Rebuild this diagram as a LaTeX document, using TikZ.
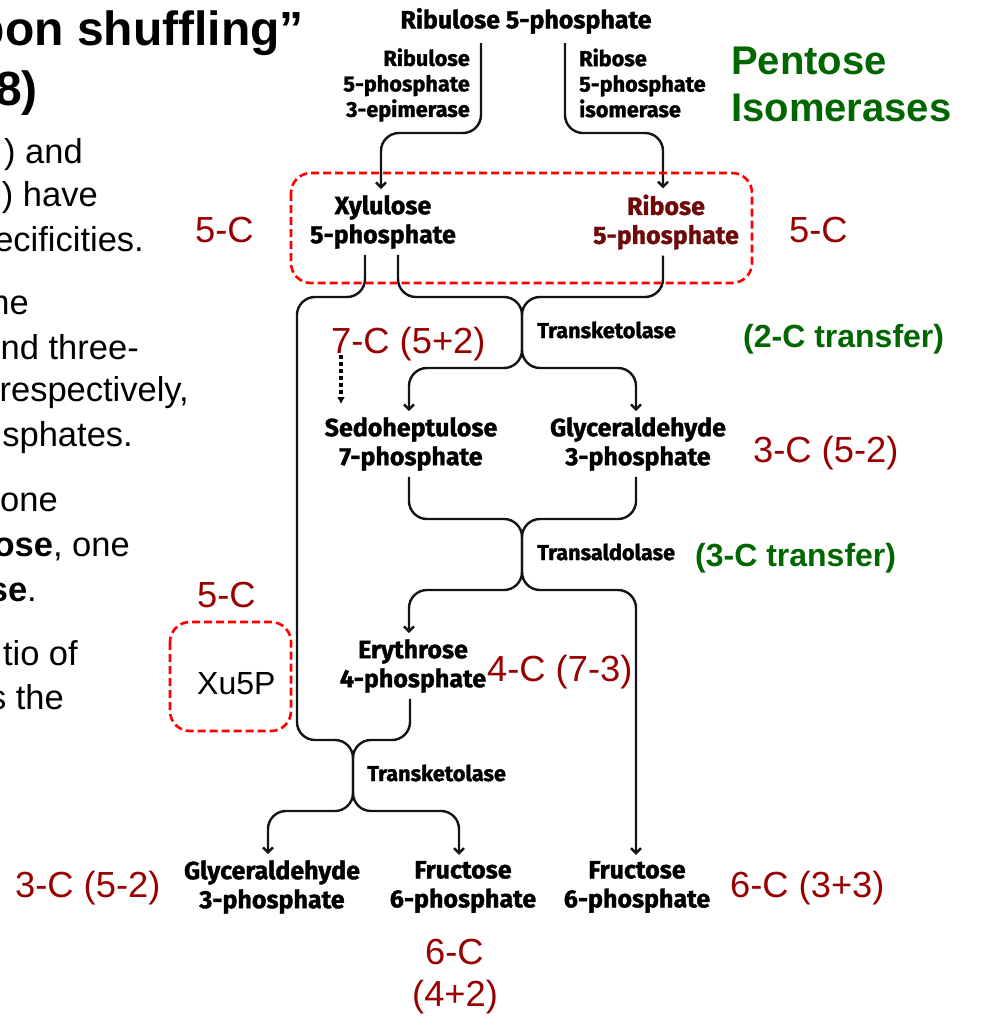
\documentclass[tikz,border=0pt]{standalone}
\usepackage{fontspec}
\setmainfont{Liberation Sans}
\newfontfamily\pathfont[BoldFeatures={FakeBold=1.3}]{Fira Sans}
\usepackage{xcolor}
\usetikzlibrary{arrows.meta}
\definecolor{darkredlbl}{HTML}{990000}
\definecolor{darkgreenlbl}{HTML}{006600}
\definecolor{riboselbl}{HTML}{6E0A0A}
\definecolor{dashred}{HTML}{FF0000}
\tikzset{
  bodytext/.style={anchor=base east, inner sep=0pt, text=black, font=\fontsize{34.5}{40}\selectfont},
  titletext/.style={anchor=base east, inner sep=0pt, text=black, font=\fontsize{48}{54}\selectfont\bfseries},
  carbonlbl/.style={anchor=base west, inner sep=0pt, text=darkredlbl, font=\fontsize{36.3}{40}\selectfont},
  transferlbl/.style={anchor=base west, inner sep=0pt, text=darkgreenlbl, font=\fontsize{32}{36}\selectfont\bfseries},
  isolbl/.style={anchor=base west, inner sep=0pt, text=darkgreenlbl, font=\fontsize{40}{47}\selectfont\bfseries},
  metab/.style={align=center, inner xsep=0pt, inner ysep=6pt, text=black, font=\pathfont\fontsize{25}{29}\selectfont\bfseries},
  enzyme/.style={inner sep=0pt, text=black, font=\pathfont\fontsize{21.7}{25.5}\selectfont\bfseries},
  conn/.style={draw=black!92, line width=2.4pt, rounded corners=18pt},
  connarrow/.style={conn, -{Straight Barb[length=5pt,width=10pt]}},
  dashbox/.style={draw=dashred, line width=2.6pt, dash pattern=on 8pt off 4pt, rounded corners=20pt}
}
\begin{document}
\begin{tikzpicture}[x=1pt, y=-1pt]
\useasboundingbox (0,0) rectangle (1000,1035);

\node[titletext] (titlea) at (304,46) {bon shuffling”};
\node[titletext] (titleb) at (38,106) {8)};
\node[bodytext] (ta) at (83,164) {) and};
\node[bodytext] (tb) at (98,206) {) have};
\node[bodytext] (tc) at (144,251) {ecificities.};
\node[bodytext] (td) at (29,314) {ne};
\node[bodytext] (te) at (139,359) {nd three-};
\node[bodytext] (tf) at (189,401) {respectively,};
\node[bodytext] (tg) at (133,446) {sphates.};
\node[bodytext] (th) at (58,511) {one};
\node[bodytext] (ti) at (130,556) {\textbf{ose}, one};
\node[bodytext] (tj) at (37,601) {\textbf{se}.};
\node[bodytext] (tk) at (78,665) {tio of};
\node[bodytext] (tl) at (64,709) {s the};

\node[metab, inner ysep=9pt] (ru5p) at (526,21) {Ribulose 5-phosphate};
\node[metab] (xu5p) at (383,222) {Xylulose\\5-phosphate};
\node[metab, text=riboselbl] (r5p) at (666,222) {Ribose\\5-phosphate};
\node[metab] (s7p) at (411,444) {Sedoheptulose\\7-phosphate};
\node[metab] (g3pa) at (638,444) {Glyceraldehyde\\3-phosphate};
\node[metab] (e4p) at (413,666) {Erythrose\\4-phosphate};
\node[metab] (g3pb) at (272,887) {Glyceraldehyde\\3-phosphate};
\node[metab] (f6pa) at (463,887) {Fructose\\6-phosphate};
\node[metab] (f6pb) at (637,887) {Fructose\\6-phosphate};

\node[enzyme, anchor=east, align=right] (rpe) at (470,85) {Ribulose\\5-phosphate\\3-epimerase};
\node[enzyme, anchor=west, align=left] (rpi) at (579,83) {Ribose\\5-phosphate\\isomerase};
\node[enzyme, anchor=west] (tka) at (537,330) {Transketolase};
\node[enzyme, anchor=west] (tal) at (537,552) {Transaldolase};
\node[enzyme, anchor=west] (tkb) at (367,773) {Transketolase};

\node[isolbl] (pent) at (731,75) {Pentose};
\node[isolbl] (isom) at (731,122) {Isomerases};
\node[transferlbl] (twoc) at (743,347) {(2-C transfer)};
\node[transferlbl] (threec) at (695,566) {(3-C transfer)};

\node[carbonlbl] (ca) at (195,242) {5-C};
\node[carbonlbl] (cb) at (789,242) {5-C};
\node[carbonlbl] (cc) at (331,353) {7-C (5+2)};
\node[carbonlbl] (cd) at (753,462) {3-C (5-2)};
\node[carbonlbl] (ce) at (197,607) {5-C};
\node[carbonlbl] (cf) at (487,681) {4-C (7-3)};
\node[carbonlbl] (cg) at (15,897) {3-C (5-2)};
\node[carbonlbl] (ch) at (730,897) {6-C (3+3)};
\node[carbonlbl] (ci) at (425,964) {6-C};
\node[carbonlbl] (cj) at (412,1006) {(4+2)};
\node[inner sep=0pt, anchor=base west, text=black, font=\fontsize{32}{38}\selectfont] (xu) at (197,694) {Xu5P};

\coordinate (ba) at (381,133);
\coordinate (bb) at (663,133);
\coordinate (ja) at (522,297);
\coordinate (jb) at (522,368);
\coordinate (jc) at (522,519);
\coordinate (jd) at (522,590);
\coordinate (je) at (353,740);
\coordinate (jf) at (353,811);
\coordinate (wall) at (297,297);
\coordinate (dota) at (341,355);
\coordinate (dotb) at (341,404);

\draw[connarrow] ([xshift=-45pt]ru5p.south) |- (ba) -- ([xshift=-2pt]xu5p.north);
\draw[connarrow] ([xshift=39pt]ru5p.south) |- (bb) -- ([xshift=-3pt]r5p.north);

\draw[connarrow] ([xshift=15pt]xu5p.south) |- (ja) -- (jb) -| ([xshift=-2pt]s7p.north);
\draw[connarrow] ([xshift=-3pt]r5p.south) |- (ja) -- (jb) -| ([xshift=-2pt]g3pa.north);

\draw[connarrow] ([xshift=-2pt]s7p.south) |- (jc) -- (jd) -| ([xshift=-4pt]e4p.north);
\draw[connarrow] ([xshift=-2pt]g3pa.south) |- (jc) -- (jd) -| ([xshift=-1pt]f6pb.north);

\draw[connarrow] ([xshift=-18pt]xu5p.south) |- (wall) |- (je) -- (jf) -| ([xshift=-4pt]g3pb.north);
\draw[connarrow] ([xshift=-3pt]e4p.south) |- (je) -- (jf) -| ([xshift=-4pt]f6pa.north);

\draw[line width=3.5pt, black, dash pattern=on 3.5pt off 3.5pt, -{Latex[length=7pt,width=8pt]}] (dota) -- (dotb);

\draw[dashbox] (291,173) rectangle (752,283);
\draw[dashbox] (170,622) rectangle (291,731);
\end{tikzpicture}
\end{document}
